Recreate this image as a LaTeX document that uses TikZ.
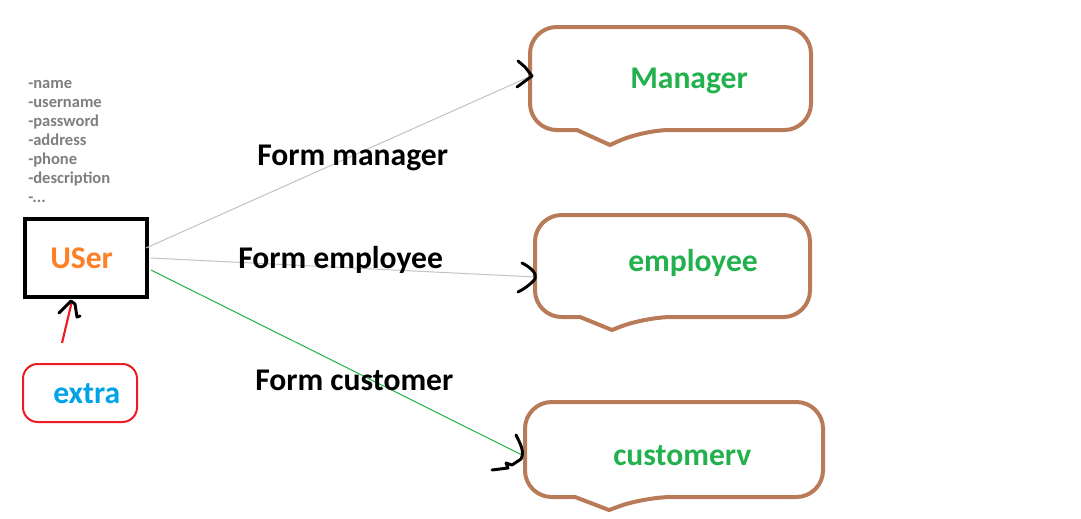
\documentclass[tikz,border=0pt]{standalone}
\usepackage{fontspec}
\setmainfont{Carlito}
\definecolor{brownc}{HTML}{B97A57}
\definecolor{greent}{HTML}{22B14C}
\definecolor{oranget}{HTML}{FF7F27}
\definecolor{bluet}{HTML}{00A2E8}
\definecolor{redc}{HTML}{ED1C24}
\definecolor{grayt}{HTML}{7F7F7F}
\definecolor{lgray}{HTML}{C3C3C3}
\begin{document}
\begin{tikzpicture}[x=0.75pt,y=-0.75pt,
  big/.style={font=\fontsize{23.7}{26}\selectfont\bfseries, inner sep=0, anchor=base west},
  attr/.style={font=\fontsize{12.4}{14}\selectfont\bfseries, text=grayt, anchor=base west, inner sep=0},
  calloutline/.style={draw=brownc, line width=3pt, line join=round},
  scrib/.style={draw=black, line width=2.2pt, line cap=round, line join=round},
  thinline/.style={line width=0.75pt}]
\useasboundingbox[fill=white] (0,0) rectangle (1081,518);

% attribute list
\node[attr] (a1) at (28,88) {-name};
\node[attr] (a2) at (28,107) {-username};
\node[attr] (a3) at (28,126) {-password};
\node[attr] (a4) at (28,145) {-address};
\node[attr] (a5) at (28,164) {-phone};
\node[attr] (a6) at (28,183) {-description};
\node[attr] (a7) at (28,202) {-...};

% user box
\node[draw, line width=3pt, minimum width=91.5pt, minimum height=58.5pt, inner sep=0] (user) at (86,258) {};
\node[big, text=oranget] (usertxt) at (50,268) {USer};

% extra box
\node[draw=redc, line width=1.5pt, rounded corners=11pt, minimum width=85.5pt, minimum height=43.5pt, inner sep=0] (extra) at (80,393) {};
\node[big, text=bluet] (extratxt) at (53,403) {extra};

% callouts
\draw[calloutline] (577,130) [rounded corners=20] -- (530,130) -- (530,27) -- (811,27) -- (811,130) -- (643,130) [sharp corners] -- (610,145) -- cycle;
\draw[calloutline] (580,317) [rounded corners=20] -- (535,317) -- (535,215) -- (810,215) -- (810,317) -- (645,317) [sharp corners] -- (612,330) -- cycle;
\draw[calloutline] (575,497) [rounded corners=20] -- (525,497) -- (525,402) -- (823,402) -- (823,497) -- (645,497) [sharp corners] -- (609,510) -- cycle;

\node[big, text=greent] (mgr) at (630,88) {Manager};
\node[big, text=greent] (emp) at (628,271) {employee};
\node[big, text=greent] (cust) at (613,465) {customerv};

\coordinate (mgrin) at (531,76);
\coordinate (empin) at (535,277);
\coordinate (custin) at (522,455);
\coordinate (uout1) at (146,248);
\coordinate (uout2) at (151,258);
\coordinate (uout3) at (151,270);
\coordinate (extraout) at (62,343);
\coordinate (userin) at (72,301);

% connectors
\draw[lgray, thinline] (uout1) -- (mgrin);
\draw[lgray, thinline] (uout2) -- (empin);
\draw[greent, thinline] (uout3) -- (custin);
\draw[redc, line width=1.6pt] (extraout) -- (userin);

% hand-drawn arrowheads
\draw[scrib] (518,61) -- (525,67) -- (532,76) -- (517,87);
\draw[scrib] (522,263) .. controls (532,268) and (537,274) .. (535,279) .. controls (530,285) and (524,289) .. (518,292);
\draw[scrib] (516,435) .. controls (520,443) and (525,452) .. (521,459) -- (512,465) -- (506,463) -- (508,468) -- (492,470);
\draw[scrib] (59,313) -- (71,301) -- (75,304) -- (77,317) -- (80,316);

% labels
\node[big] (lm) at (257,165) {Form manager};
\node[big] (le) at (238,268) {Form employee};
\node[big] (lc) at (255,390) {Form customer};
\end{tikzpicture}
\end{document}
